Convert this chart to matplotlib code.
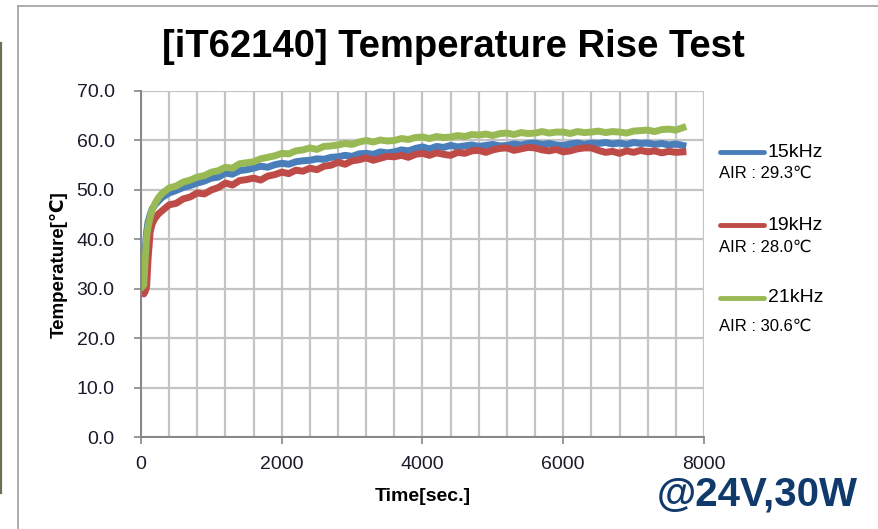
import matplotlib
matplotlib.use("Agg")
from matplotlib import pyplot as plt
from matplotlib.lines import Line2D

plt.rcParams['font.family'] = ['Liberation Sans', 'DejaVu Sans']

# sample times [sec]
time_s = [20, 40, 60, 80, 100, 130, 160, 200, 250, 300,
          400, 500, 600, 700, 800, 900, 1000, 1100, 1200, 1300,
          1400, 1500, 1600, 1700, 1800, 1900, 2000, 2100, 2200, 2300,
          2400, 2500, 2600, 2700, 2800, 2900, 3000, 3100, 3200, 3300,
          3400, 3500, 3600, 3700, 3800, 3900, 4000, 4100, 4200, 4300,
          4400, 4500, 4600, 4700, 4800, 4900, 5000, 5100, 5200, 5300,
          5400, 5500, 5600, 5700, 5800, 5900, 6000, 6100, 6200, 6300,
          6400, 6500, 6600, 6700, 6800, 6900, 7000, 7100, 7200, 7300,
          7400, 7500, 7600, 7700]

temp_15k = [29.5, 33.0, 38.0, 41.5, 43.5, 45.0, 46.2, 47.0, 47.8, 48.5,
            49.4, 49.9, 50.5, 50.9, 51.4, 51.8, 52.4, 52.6, 53.4, 53.2,
            53.9, 54.1, 54.4, 54.8, 54.6, 55.1, 55.4, 55.2, 55.7, 55.9,
            56.0, 56.3, 56.2, 56.6, 56.7, 57.0, 56.8, 57.3, 57.4, 57.2,
            57.7, 57.5, 57.7, 58.1, 57.9, 58.4, 58.7, 58.3, 58.8, 58.6,
            59.0, 58.7, 58.9, 59.1, 58.8, 59.0, 59.2, 58.9, 59.0, 59.3,
            59.1, 59.4, 59.5, 59.2, 59.4, 59.1, 59.0, 59.3, 59.5, 59.2,
            59.5, 59.4, 59.6, 59.3, 59.5, 59.2, 59.6, 59.4, 59.5, 59.2,
            59.4, 59.1, 59.3, 59.0]

temp_19k = [29.3, 29.0, 29.5, 30.5, 36.0, 41.5, 43.2, 44.3, 45.2, 45.8,
            47.0, 47.3, 48.2, 48.6, 49.4, 49.2, 50.0, 50.5, 51.4, 51.0,
            51.9, 52.1, 52.4, 52.0, 52.8, 53.1, 53.6, 53.3, 54.0, 53.8,
            54.4, 54.1, 54.8, 55.0, 55.6, 55.2, 55.9, 56.1, 56.5, 56.0,
            56.4, 56.8, 56.7, 57.0, 56.6, 57.2, 57.4, 57.0, 57.5, 57.2,
            57.0, 57.6, 57.4, 57.9, 58.0, 57.6, 58.1, 58.4, 58.5, 58.0,
            58.3, 58.6, 58.5, 58.1, 57.9, 58.2, 57.7, 57.9, 58.3, 58.5,
            58.5, 58.0, 57.6, 57.8, 57.4, 57.9, 57.6, 58.0, 57.7, 57.9,
            57.5, 57.8, 57.6, 57.7]

temp_21k = [30.5, 30.8, 36.0, 40.5, 42.5, 44.5, 46.0, 47.3, 48.5, 49.3,
            50.4, 50.8, 51.6, 52.0, 52.6, 52.9, 53.6, 53.9, 54.6, 54.4,
            55.3, 55.5, 55.7, 56.3, 56.6, 56.9, 57.4, 57.3, 57.9, 58.1,
            58.5, 58.2, 58.8, 58.9, 59.1, 59.4, 59.2, 59.7, 60.0, 59.7,
            60.1, 59.9, 60.0, 60.4, 60.2, 60.6, 60.7, 60.4, 60.8, 60.6,
            60.7, 61.0, 60.8, 61.2, 61.1, 61.3, 61.0, 61.4, 61.5, 61.2,
            61.6, 61.4, 61.5, 61.8, 61.5, 61.7, 61.7, 61.4, 61.8, 61.6,
            61.7, 61.9, 61.6, 61.8, 61.7, 61.5, 61.9, 62.0, 62.1, 61.8,
            62.2, 62.3, 62.1, 62.6]

series_names = ['15kHz', '19kHz', '21kHz']
air_labels = ['AIR : 29.3℃', 'AIR : 28.0℃', 'AIR : 30.6℃']
colors = ['#4a7ebb', '#be4b48', '#98b954']

fig = plt.figure(figsize=(8.79, 5.29), dpi=100)
ax = fig.add_axes([0.1604, 0.173, 0.6405, 0.655])

for temps, c in zip([temp_15k, temp_19k, temp_21k], colors):
    ax.plot(time_s, temps, color=c, lw=5, solid_joinstyle='round')

ax.set_xlim(0, 8000)
ax.set_ylim(0, 70)
ax.set_xticks(range(0, 8001, 2000))
ax.set_xticks(range(0, 8001, 400), minor=True)
ax.set_yticks(range(0, 71, 10))
ax.set_yticklabels([f'{v:.1f}' for v in range(0, 71, 10)])
ax.grid(True, which='both', color='#c4c4c4', lw=1.6)
ax.set_axisbelow(True)
ax.tick_params(axis='both', which='major', direction='out', length=5,
               width=1.2, color='#868686', labelsize=14, labelcolor='#1a1a2a')
ax.tick_params(axis='x', which='major', pad=8)
ax.tick_params(axis='y', which='major', pad=14)
ax.tick_params(axis='x', which='minor', length=0)
for side in ['top', 'right']:
    ax.spines[side].set_visible(False)
for side in ['left', 'bottom']:
    ax.spines[side].set_color('#868686')
    ax.spines[side].set_linewidth(1.4)

ax.set_xlabel('Time[sec.]', fontsize=14, fontweight='bold', labelpad=11)
ax.set_ylabel('Temperature[℃]', fontsize=13.5, fontweight='bold', labelpad=6)

fig.text(0.516, 0.912, '[iT62140] Temperature Rise Test',
         ha='center', va='center', fontsize=27.5, fontweight='bold')

# legend drawn by hand
W, H = 879, 529
line_y = [152, 225, 298]
air_y = [173, 247, 326]
for name, air, c, ly, ay in zip(series_names, air_labels, colors, line_y, air_y):
    fig.add_artist(Line2D([720 / W, 764 / W], [1 - ly / H, 1 - ly / H],
                          color=c, lw=3.5, solid_capstyle='round'))
    fig.text(768 / W, 1 - ly / H, name, ha='left', va='center', fontsize=14)
    fig.text(719 / W, 1 - ay / H, air, ha='left', va='center', fontsize=12)

fig.text(757 / W, 1 - 495 / H, '@24V,30W', ha='center', va='center',
         fontsize=29, fontweight='bold', color='#0f3a6b')

# outer frame and left bar
fig.add_artist(Line2D([18 / W, 18 / W], [0, 1 - 6 / H], color='#a6a6a6', lw=1.3))
fig.add_artist(Line2D([18 / W, 1], [1 - 6 / H, 1 - 6 / H], color='#a6a6a6', lw=1.3))
fig.add_artist(Line2D([1.2 / W, 1.2 / W], [1 - 493 / H, 1 - 43 / H], color='#6e6e50', lw=1.6))

fig.savefig('out.png', dpi=100)
